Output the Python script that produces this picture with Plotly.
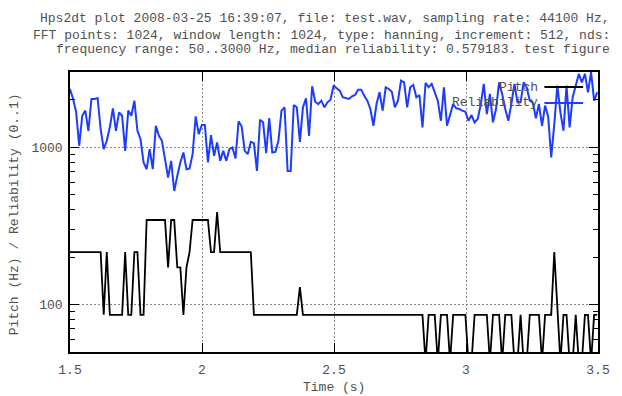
import numpy as np
import plotly.graph_objects as go

# ---- data ----
SAMPLE_RATE = 44100
INCREMENT = 512
T_START = 1.5

pitch_hz = [
    215.3, 215.3, 215.3, 215.3, 215.3, 215.3, 215.3, 215.3, 215.3, 215.3,
    215.3, 86.1, 215.3, 86.1, 86.1, 86.1, 86.1, 86.1, 215.3, 86.1,
    86.1, 215.3, 215.3, 86.1, 86.1, 344.5, 344.5, 344.5, 344.5, 344.5,
    344.5, 344.5, 172.3, 344.5, 344.5, 172.3, 172.3, 86.1, 172.3, 215.3,
    344.5, 344.5, 344.5, 344.5, 344.5, 344.5, 215.3, 215.3, 387.6, 215.3,
    215.3, 215.3, 215.3, 215.3, 215.3, 215.3, 215.3, 215.3, 215.3, 215.3,
    86.1, 86.1, 86.1, 86.1, 86.1, 86.1, 86.1, 86.1, 86.1, 86.1,
    86.1, 86.1, 86.1, 86.1, 86.1, 129.2, 86.1, 86.1, 86.1, 86.1,
    86.1, 86.1, 86.1, 86.1, 86.1, 86.1, 86.1, 86.1, 86.1, 86.1,
    86.1, 86.1, 86.1, 86.1, 86.1, 86.1, 86.1, 86.1, 86.1, 86.1,
    86.1, 86.1, 86.1, 86.1, 86.1, 86.1, 86.1, 86.1, 86.1, 86.1,
    86.1, 86.1, 86.1, 86.1, 86.1, 86.1, 43.1, 86.1, 86.1, 86.1,
    43.1, 86.1, 86.1, 86.1, 43.1, 86.1, 86.1, 86.1, 86.1, 86.1,
    43.1, 43.1, 86.1, 86.1, 86.1, 86.1, 86.1, 43.1, 86.1, 86.1,
    86.1, 43.1, 86.1, 86.1, 86.1, 43.1, 43.1, 86.1, 43.1, 43.1,
    86.1, 86.1, 86.1, 86.1, 43.1, 86.1, 86.1, 86.1, 215.3, 86.1,
    43.1, 86.1, 86.1, 43.1, 43.1, 86.1, 43.1, 43.1, 86.1, 86.1,
    43.1, 86.1, 86.1,
]

reliability = [
    2340, 2022, 1670, 1020, 1583, 1705, 1270, 2022, 2022, 2052,
    1302, 971, 1097, 1341, 1763, 1270, 1664, 1583, 947, 1705,
    1583, 1972, 1270, 1124, 799, 724, 971, 724, 1367, 1180,
    1097, 860, 641, 818, 527, 657, 799, 925, 724, 732,
    903, 1568, 1210, 1381, 1381, 799, 1192, 880, 1071, 818,
    947, 818, 971, 996, 847, 1458, 1355, 947, 903, 1081,
    1060, 706, 1492, 1437, 916, 1530, 925, 933, 1097, 1705,
    1790, 706, 706, 1851, 1790, 1081, 1790, 2043, 1180, 2436,
    1944, 1877, 1972, 1790, 1925, 2000, 2465, 2365, 2285, 2073,
    2052, 2022, 2104, 2144, 2317, 2317, 2122, 1972, 1746, 1367,
    1877, 2230, 1705, 2400, 2341, 2250, 1790, 1972, 2645, 2580,
    1790, 2400, 2482, 2073, 2144, 1335, 2556, 2400, 2520, 2250,
    1972, 1470, 2400, 1367, 1583, 1877, 1763, 1746, 1705, 1678,
    1470, 1599, 1437, 1508, 1851, 2520, 1622, 2176, 1437, 1746,
    2580, 2176, 1746, 1470, 1877, 2520, 1925, 1925, 2580, 2400,
    1972, 1925, 1525, 1877, 1367, 1834, 1568, 860, 1401, 2457,
    1664, 1270, 2457, 1335, 2073, 2482, 2917, 2580, 2917, 2230,
    2990, 1972, 2230,
]

x_ticks = [1.5, 2, 2.5, 3, 3.5]
x_tick_labels = ["1.5", "2", "2.5", "3", "3.5"]
y_ticks = [100, 1000]
y_tick_labels = ["100", "1000"]
y_minor = [60, 70, 80, 90, 200, 300, 400, 500, 600, 700, 800, 900, 2000, 3000]
Y_MIN, Y_MAX = 50, 3000

title_lines = [
    "Hps2dt plot 2008-03-25 16:39:07, file: test.wav, sampling rate: 44100 Hz,",
    "FFT points: 1024, window length: 1024, type: hanning, increment: 512, nds:",
    "frequency range: 50..3000 Hz, median reliability: 0.579183. test figure",
]

# frame times (increment / sampling rate)
time_s = T_START + np.arange(len(pitch_hz)) * INCREMENT / SAMPLE_RATE

FONT = "Liberation Mono"
TXT = "#505050"
BLUE = "#1e3cff"

fig = go.Figure()
fig.add_trace(go.Scatter(x=time_s, y=pitch_hz, mode="lines", name="Pitch",
                         line=dict(color="black", width=1.8)))
fig.add_trace(go.Scatter(x=time_s, y=reliability, mode="lines", name="Reliability",
                         line=dict(color=BLUE, width=2)))

axis_common = dict(
    showline=True, linecolor="black", linewidth=1.5, mirror="ticks",
    ticks="inside", ticklen=9, tickwidth=1, tickcolor="black",
    showgrid=True, gridcolor="#8a8a8a", gridwidth=1.3, griddash="2px,2px",
    zeroline=False, tickfont=dict(family=FONT, size=13, color=TXT),
)

fig.update_layout(
    width=622, height=396,
    margin=dict(l=70, r=20, t=72, b=44),
    paper_bgcolor="white", plot_bgcolor="white",
    showlegend=False,
    xaxis=dict(range=[1.5, 3.5], tickmode="array", tickvals=x_ticks,
               ticktext=x_tick_labels, ticklabelstandoff=5, **axis_common),
    yaxis=dict(type="log", range=[np.log10(Y_MIN), np.log10(Y_MAX)],
               tickmode="array", tickvals=y_ticks, ticktext=y_tick_labels,
               ticklabelstandoff=3,
               minor=dict(tickmode="array", tickvals=y_minor, ticks="inside",
                          ticklen=5, tickcolor="black", tickwidth=1, showgrid=False),
               **axis_common),
)

anns = []
for line, yp in zip(title_lines, [1.1893, 1.1321, 1.0786]):
    anns.append(dict(text=line, xref="paper", yref="paper", x=1.0263, y=yp,
                     xanchor="right", yanchor="middle", showarrow=False,
                     font=dict(family=FONT, size=13, color=TXT)))
anns.append(dict(text="Pitch (Hz) / Reliability (0..1)", xref="paper", yref="paper",
                 x=-0.105, y=0.49, textangle=-90, xanchor="center", yanchor="middle",
                 showarrow=False, font=dict(family=FONT, size=13, color=TXT)))
anns.append(dict(text="Time (s)", xref="paper", yref="paper", x=0.5, y=-0.126,
                 xanchor="center", yanchor="middle", showarrow=False,
                 font=dict(family=FONT, size=13, color=TXT)))

# gnuplot-style key: text on the left, line sample on the right
key = [("Pitch", "black", 0.9464), ("Reliability", BLUE, 0.8893)]
shapes = []
for name, col, yp in key:
    anns.append(dict(text=name, xref="paper", yref="paper", x=0.8895, y=yp,
                     xanchor="right", yanchor="middle", showarrow=False,
                     font=dict(family=FONT, size=13, color=TXT)))
    shapes.append(dict(type="line", xref="paper", yref="paper", x0=0.8985, x1=0.9718,
                       y0=yp, y1=yp, line=dict(color=col, width=2)))

fig.update_layout(annotations=anns, shapes=shapes)
fig.write_html("out.html")
